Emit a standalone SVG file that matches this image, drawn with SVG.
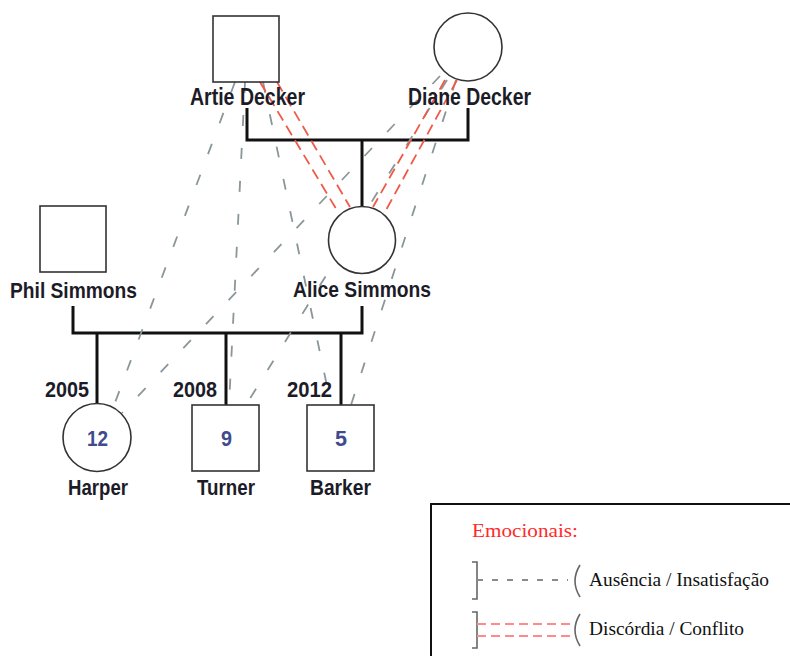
<svg xmlns="http://www.w3.org/2000/svg" width="790" height="656" viewBox="0 0 790 656">
<style>
.lbl{font-family:"Liberation Sans",Arial,sans-serif;font-weight:bold;font-size:22px;fill:#1c1c28}
.big{font-size:23px}
.num{font-family:"Liberation Sans",Arial,sans-serif;font-weight:bold;font-size:22px;fill:#3f4b8c}
.shape{fill:#fff;stroke:#333;stroke-width:1.6}
.fam{fill:none;stroke:#111;stroke-width:3}
.gray{fill:none;stroke:#8a9699;stroke-width:1.8;stroke-dasharray:11 22}
.red{fill:none;stroke:#f05a48;stroke-width:1.8;stroke-dasharray:11 6}
.leg{font-family:"Liberation Serif","Times New Roman",serif;font-size:18px;fill:#111}
</style>
<rect width="790" height="656" fill="#fff"/>
<g id="connectors">
<g id="family-lines">
<polyline class="fam" points="247,108 247,140 468,140 468,108"/>
<line class="fam" x1="362" y1="140" x2="362" y2="207"/>
<polyline class="fam" points="73,306 73,333 362,333 362,306"/>
<line class="fam" x1="97" y1="333" x2="97" y2="404"/>
<line class="fam" x1="226" y1="333" x2="226" y2="405"/>
<line class="fam" x1="341" y1="333" x2="341" y2="405"/>
</g>
<g id="emotional-gray">
<line class="gray" x1="235" y1="82" x2="113" y2="408"/>
<line class="gray" x1="245" y1="82" x2="229" y2="405"/>
<line class="gray" x1="263" y1="82" x2="331" y2="405"/>
<line class="gray" x1="440" y1="76" x2="122" y2="413"/>
<line class="gray" x1="447" y1="80" x2="246" y2="405"/>
<line class="gray" x1="456" y1="80" x2="351" y2="405"/>
</g>
<g id="emotional-red">
<line class="red" x1="260" y1="82" x2="338" y2="212"/>
<line class="red" x1="277" y1="82" x2="350" y2="207"/>
<line class="red" x1="445" y1="80" x2="373" y2="207"/>
<line class="red" x1="457" y1="80" x2="385" y2="212"/>
</g>
</g>
<g id="artie">
<rect class="shape" x="213" y="16" width="66" height="66"/>
<text class="lbl big" x="190" y="105" textLength="115" lengthAdjust="spacingAndGlyphs">Artie Decker</text>
</g>
<g id="diane">
<circle class="shape" cx="468" cy="47" r="34"/>
<text class="lbl big" x="408" y="105" textLength="123" lengthAdjust="spacingAndGlyphs">Diane Decker</text>
</g>
<g id="phil">
<rect class="shape" x="40" y="206" width="66" height="66"/>
<text class="lbl" x="10" y="298" textLength="127" lengthAdjust="spacingAndGlyphs">Phil Simmons</text>
</g>
<g id="alice">
<circle class="shape" cx="362" cy="240" r="33.5"/>
<text class="lbl" x="293" y="297" textLength="138" lengthAdjust="spacingAndGlyphs">Alice Simmons</text>
</g>
<g id="harper">
<circle class="shape" cx="97" cy="437.5" r="34"/>
<text class="num" x="87" y="446" textLength="21" lengthAdjust="spacingAndGlyphs">12</text>
<text class="lbl" x="45" y="397" textLength="44" lengthAdjust="spacingAndGlyphs">2005</text>
<text class="lbl" x="68" y="495" textLength="60" lengthAdjust="spacingAndGlyphs">Harper</text>
</g>
<g id="turner">
<rect class="shape" x="192" y="405" width="67" height="66"/>
<text class="num" x="221" y="446" textLength="11" lengthAdjust="spacingAndGlyphs">9</text>
<text class="lbl" x="173" y="397" textLength="44" lengthAdjust="spacingAndGlyphs">2008</text>
<text class="lbl" x="197" y="495" textLength="58" lengthAdjust="spacingAndGlyphs">Turner</text>
</g>
<g id="barker">
<rect class="shape" x="307" y="405" width="67" height="66"/>
<text class="num" x="335" y="446" textLength="12" lengthAdjust="spacingAndGlyphs">5</text>
<text class="lbl" x="287" y="397" textLength="45" lengthAdjust="spacingAndGlyphs">2012</text>
<text class="lbl" x="310" y="495" textLength="61" lengthAdjust="spacingAndGlyphs">Barker</text>
</g>
<g id="legend">
<rect x="431" y="504" width="370" height="170" fill="#fff" stroke="#111" stroke-width="2"/>
<text class="leg" x="472" y="537" style="fill:#ff2a2a" textLength="106" lengthAdjust="spacingAndGlyphs">Emocionais:</text>
<path d="M472,562 H477 V599 H472" fill="none" stroke="#666" stroke-width="1.6"/>
<line x1="477" y1="580" x2="568" y2="580" stroke="#8a8a8a" stroke-width="1.8" stroke-dasharray="6 9"/>
<path d="M580,565 Q570,581 580,597" fill="none" stroke="#666" stroke-width="1.6"/>
<text class="leg" x="589" y="586" textLength="180" lengthAdjust="spacingAndGlyphs">Ausência / Insatisfação</text>
<path d="M472,612 H477 V648 H472" fill="none" stroke="#666" stroke-width="1.6"/>
<line x1="477" y1="624" x2="570" y2="624" stroke="#ff8a8a" stroke-width="1.8" stroke-dasharray="9 5"/>
<line x1="477" y1="636" x2="570" y2="636" stroke="#ff8a8a" stroke-width="1.8" stroke-dasharray="9 5"/>
<path d="M580,614 Q570,630 580,646" fill="none" stroke="#666" stroke-width="1.6"/>
<text class="leg" x="589" y="635" textLength="155" lengthAdjust="spacingAndGlyphs">Discórdia / Conflito</text>
</g>
</svg>
